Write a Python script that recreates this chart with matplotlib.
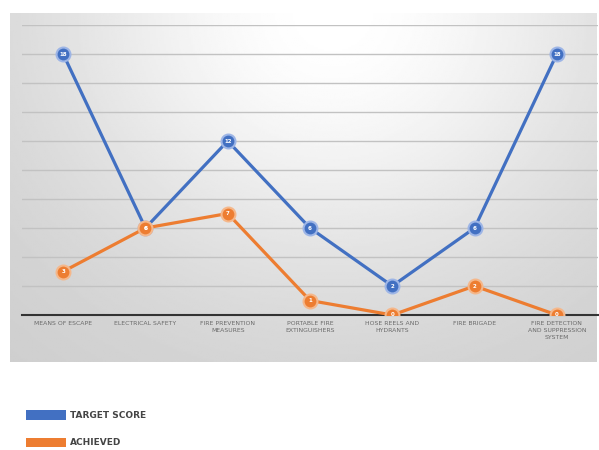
import numpy as np
import matplotlib
matplotlib.use("Agg")
import matplotlib.pyplot as plt
from matplotlib.patches import Patch

categories = ["MEANS OF ESCAPE", "ELECTRICAL SAFETY", "FIRE PREVENTION\nMEASURES",
              "PORTABLE FIRE\nEXTINGUISHERS", "HOSE REELS AND\nHYDRANTS", "FIRE BRIGADE",
              "FIRE DETECTION\nAND SUPPRESSION\nSYSTEM"]
target_score = [18, 6, 12, 6, 2, 6, 18]
achieved = [3, 6, 7, 1, 0, 2, 0]

blue = "#4270C2"
orange = "#ED7D31"

fig = plt.figure(figsize=(5.99, 4.5), dpi=100)

# gray gradient chart area behind the plot
bg = fig.add_axes([10 / 599, 1 - 362 / 450, 587 / 599, 349 / 450], zorder=0)
yy, xx = np.mgrid[0:1:200j, 0:1:300j]
shade = 0.80 + 0.20 * np.exp(-((xx - 0.55) ** 2 / 0.25 + (yy - 0.0) ** 2 / 0.6))
bg.imshow(shade, cmap="gray", vmin=0, vmax=1, aspect="auto", extent=[0, 1, 1, 0])
bg.axis("off")

ax = fig.add_axes([22 / 599, 0.30, 576 / 599, 0.6444], zorder=1)
ax.patch.set_alpha(0)
x = np.arange(len(categories))

ax.plot(x, target_score, color=blue, lw=2.3, marker="o", ms=10,
        mfc=blue, mec="#9db5e6", mew=1.5, zorder=3)
ax.plot(x, achieved, color=orange, lw=2.3, marker="o", ms=10,
        mfc=orange, mec="#f5b78a", mew=1.5, zorder=3)
for xi, v in zip(x, target_score):
    ax.text(xi, v, str(v), color="white", fontsize=4, fontweight="bold",
            ha="center", va="center", zorder=4)
for xi, v in zip(x, achieved):
    ax.text(xi, v, str(v), color="white", fontsize=4, fontweight="bold",
            ha="center", va="center", zorder=4)

ax.set_xlim(-0.5, len(categories) - 0.5)
ax.set_ylim(0, 20)
ax.set_yticks(np.arange(0, 21, 2))
ax.yaxis.grid(True, color="#c2c2c2", lw=1)
ax.set_axisbelow(True)
ax.tick_params(axis="y", length=0, labelleft=False)
ax.tick_params(axis="x", length=0, pad=4)
ax.set_xticks(x)
ax.set_xticklabels(categories, fontsize=4.4, color="#6a6a6a", linespacing=1.6)
for s in ["top", "right", "left"]:
    ax.spines[s].set_visible(False)
ax.spines["bottom"].set_color("#333333")
ax.spines["bottom"].set_linewidth(1.5)

handles = [Patch(facecolor=blue, edgecolor="none"), Patch(facecolor=orange, edgecolor="none")]
leg = fig.legend(handles, ["TARGET SCORE", "ACHIEVED"], loc="upper left",
                 bbox_to_anchor=(0.03, 0.106), frameon=False, handlelength=4.4,
                 handleheight=1.3, labelspacing=1.9, handletextpad=0.5,
                 prop={"size": 6.5, "weight": "bold"})
for t in leg.get_texts():
    t.set_color("#444444")

fig.savefig("out.png", dpi=100)
